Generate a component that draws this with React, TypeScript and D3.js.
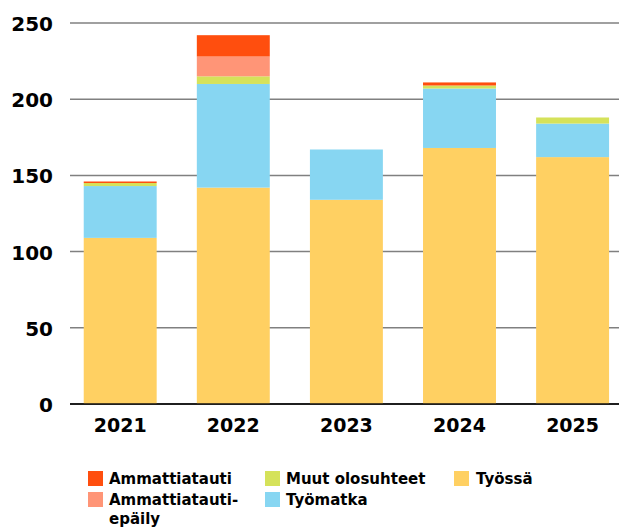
import React from "react";
import * as d3 from "d3";

const years = ["2021", "2022", "2023", "2024", "2025"];
const tyossa = [109, 142, 134, 168, 162];
const tyomatka = [34, 68, 33, 39, 22];
const muut = [2, 5, 0, 2, 4];
const epaily = [0, 13, 0, 0, 0];
const ammattitauti = [1, 14, 0, 2, 0];
const yTicks = [0, 50, 100, 150, 200, 250];

const seriesKeys = ["tyossa", "tyomatka", "muut", "epaily", "ammattitauti"];
const seriesValues: Record<string, number[]> = { tyossa, tyomatka, muut, epaily, ammattitauti };
const colors: Record<string, string> = {
  ammattitauti: "#FF4E0E",
  epaily: "#FF9577",
  muut: "#D5E25A",
  tyomatka: "#87D6F2",
  tyossa: "#FFD062",
};

const legendItems = [
  { key: "ammattitauti", lines: ["Ammattiatauti"], col: 0, row: 0 },
  { key: "epaily", lines: ["Ammattiatauti-", "epäily"], col: 0, row: 1 },
  { key: "muut", lines: ["Muut olosuhteet"], col: 1, row: 0 },
  { key: "tyomatka", lines: ["Työmatka"], col: 1, row: 1 },
  { key: "tyossa", lines: ["Työssä"], col: 2, row: 0 },
];

const W = 619;
const H = 528;
const FONT = "'DejaVu Sans', sans-serif";

export default function App() {
  const rows = years.map((y, i) => {
    const r: any = { year: y };
    seriesKeys.forEach((k) => (r[k] = seriesValues[k][i]));
    return r;
  });
  const stack = d3.stack<any>().keys(seriesKeys)(rows);

  const x = d3
    .scaleBand<string>()
    .domain(years)
    .range([63.65, 629.15])
    .paddingInner(0.355)
    .paddingOuter(0.1775);
  const y = d3.scaleLinear().domain([0, 250]).range([404, 23]);

  const colX = [88, 265, 454];
  const rowY = [471, 492];

  return (
    <svg
      width={W}
      height={H}
      style={{ position: "absolute", left: 0, top: 0, background: "#fff" }}
      fontFamily={FONT}
    >
      {yTicks.map((t) => (
        <g key={t}>
          <line
            x1={70}
            x2={W}
            y1={y(t)}
            y2={y(t)}
            stroke={t === 0 ? "#111" : "#808080"}
            strokeWidth={t === 0 ? 1.6 : 1.5}
          />
          <text
            x={53}
            y={y(t) + 8}
            textAnchor="end"
            fontSize={20}
            fontWeight="bold"
            fill="#000"
          >
            {t}
          </text>
        </g>
      ))}
      {stack.map((s) => (
        <g key={s.key} fill={colors[s.key]}>
          {s.map((d, i) =>
            d[1] - d[0] > 0 ? (
              <rect
                key={i}
                x={x(years[i])}
                width={x.bandwidth()}
                y={y(d[1])}
                height={y(d[0]) - y(d[1])}
              />
            ) : null
          )}
        </g>
      ))}
      <line x1={70} x2={W} y1={y(0)} y2={y(0)} stroke="#111" strokeWidth={1.6} />
      {years.map((yr) => (
        <text
          key={yr}
          x={(x(yr) as number) + x.bandwidth() / 2}
          y={432}
          textAnchor="middle"
          fontSize={19}
          fontWeight="bold"
          fill="#000"
        >
          {yr}
        </text>
      ))}
      {legendItems.map((it) => (
        <g key={it.key}>
          <rect
            x={colX[it.col]}
            y={rowY[it.row]}
            width={15}
            height={15}
            fill={colors[it.key]}
          />
          {it.lines.map((ln, li) => (
            <text
              key={li}
              x={colX[it.col] + (it.col === 2 ? 22 : 21)}
              y={rowY[it.row] + 13 + li * 19}
              fontSize={15}
              fontWeight="bold"
              fill="#000"
            >
              {ln}
            </text>
          ))}
        </g>
      ))}
    </svg>
  );
}
